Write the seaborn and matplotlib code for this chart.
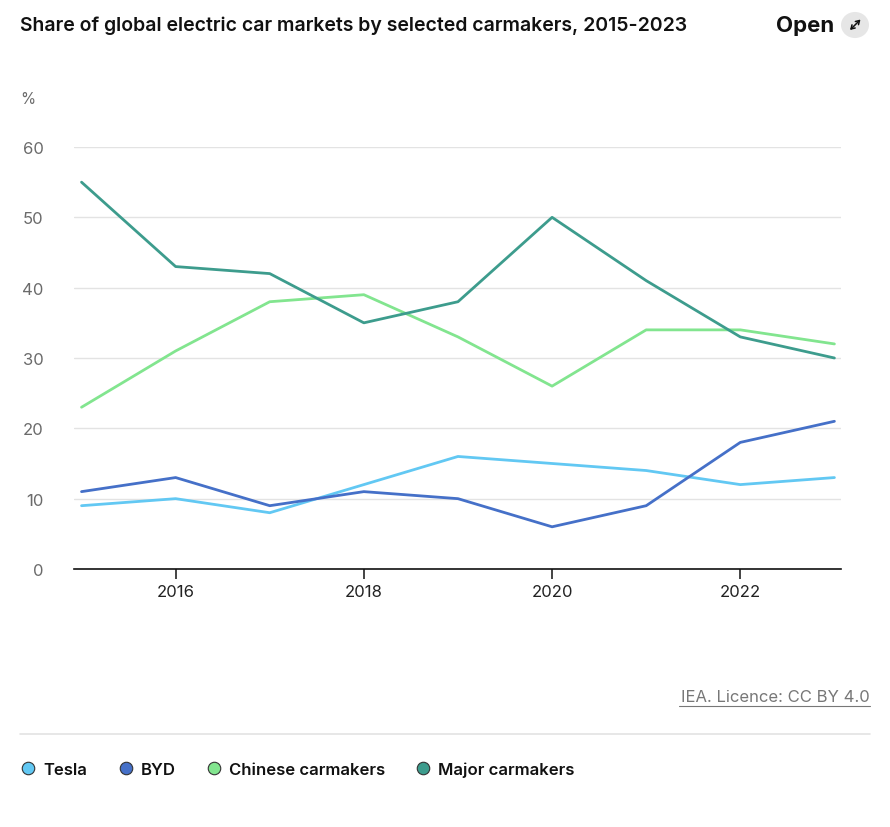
import matplotlib
matplotlib.use("Agg")
import matplotlib.pyplot as plt
from matplotlib.lines import Line2D
from matplotlib.patches import Circle, FancyArrowPatch
import seaborn as sns
import pandas as pd

years = [2015, 2016, 2017, 2018, 2019, 2020, 2021, 2022, 2023]
tesla = [9, 10, 8, 12, 16, 15, 14, 12, 13]
byd = [11, 13, 9, 11, 10, 6, 9, 18, 21]
chinese = [23, 31, 38, 39, 33, 26, 34, 34, 32]
major = [55, 43, 42, 35, 38, 50, 41, 33, 30]
series_names = ["Tesla", "BYD", "Chinese carmakers", "Major carmakers"]
colors = ["#62c8f3", "#4570c8", "#82e58f", "#3d9c8d"]
xticks = [2016, 2018, 2020, 2022]
yticks = [0, 10, 20, 30, 40, 50, 60]

rows = []
for name, vals in zip(series_names, [tesla, byd, chinese, major]):
    for y, v in zip(years, vals):
        rows.append({"year": y, "value": v, "series": name})
df = pd.DataFrame(rows)

sns.set_style("white")
plt.rcParams["font.family"] = ["Inter", "DejaVu Sans"]

W, H = 890, 828
fig = plt.figure(figsize=(W / 100, H / 100), dpi=100)
ax = fig.add_axes([74 / W, 1 - 570 / H, (841 - 74) / W, (570 - 148) / H])

sns.lineplot(data=df, x="year", y="value", hue="series", hue_order=series_names,
             palette=dict(zip(series_names, colors)), linewidth=2.0, ax=ax,
             legend=False, zorder=3)

ax.set_xlim(2014.92, 2023.07)
ax.set_ylim(0, 60)
ax.set_xticks(xticks)
ax.set_xticklabels([str(t) for t in xticks])
ax.set_yticks(yticks)
ax.set_yticklabels([str(t) for t in yticks])
ax.set_xlabel("")
ax.set_ylabel("")
ax.yaxis.grid(True, color="#e3e3e3", linewidth=1.0)
ax.xaxis.grid(False)
ax.set_axisbelow(True)
for s in ["top", "right", "left"]:
    ax.spines[s].set_visible(False)
ax.spines["bottom"].set_color("#111111")
ax.spines["bottom"].set_linewidth(1.2)
ax.tick_params(axis="x", length=7, width=1.1, color="#111111", labelsize=12,
               labelcolor="#222222", pad=4, direction="out", bottom=True)
ax.tick_params(axis="y", length=0, labelsize=12, labelcolor="#6b6b6b", pad=22)

# Title and header
fig.text(20 / W, 1 - 26 / H, "Share of global electric car markets by selected carmakers, 2015-2023",
         fontsize=14, fontweight="semibold", color="#111111", va="center", ha="left")
fig.text(834 / W, 1 - 26 / H, "Open", fontsize=16, fontweight="bold", color="#111111",
         va="center", ha="right")
circ = Circle((855 / W, 1 - 26 / H), 14 / W, transform=fig.transFigure,
              facecolor="#e6e6e6", edgecolor="none", zorder=1)
fig.add_artist(circ)
fig.add_artist(FancyArrowPatch(
    (850 / W, 1 - 31 / H), (860.5 / W, 1 - 20.5 / H), transform=fig.transFigure,
    arrowstyle="<->,head_length=2.6,head_width=1.6", color="#111111",
    linewidth=1.1, zorder=5, shrinkA=0, shrinkB=0))
fig.text(20 / W, 1 - 99 / H, "%", fontsize=11, color="#6b6b6b", va="center", ha="left")

# Footer
fig.text(870 / W, 1 - 698 / H, "IEA. Licence: CC BY 4.0", fontsize=12, color="#777777",
         va="center", ha="right")
fig.add_artist(Line2D([679 / W, 870 / W], [1 - 707 / H, 1 - 707 / H],
                      transform=fig.transFigure, color="#777777", linewidth=0.8))
fig.add_artist(Line2D([20 / W, 870 / W], [1 - 735 / H, 1 - 735 / H],
                      transform=fig.transFigure, color="#e3e3e3", linewidth=1.2))

handles = [Line2D([0], [0], marker="o", linestyle="none", markersize=9,
                  markerfacecolor=c, markeredgecolor="#333333", markeredgewidth=0.8)
           for c in colors]
leg = fig.legend(handles, series_names, loc="center left",
                 bbox_to_anchor=(5 / W, 1 - 770 / H), ncol=4, frameon=False,
                 handletextpad=0.4, columnspacing=1.8, handlelength=1.0,
                 prop={"size": 12, "weight": "semibold"})
for t in leg.get_texts():
    t.set_color("#111111")

fig.savefig("out.png", dpi=100, facecolor="white")
